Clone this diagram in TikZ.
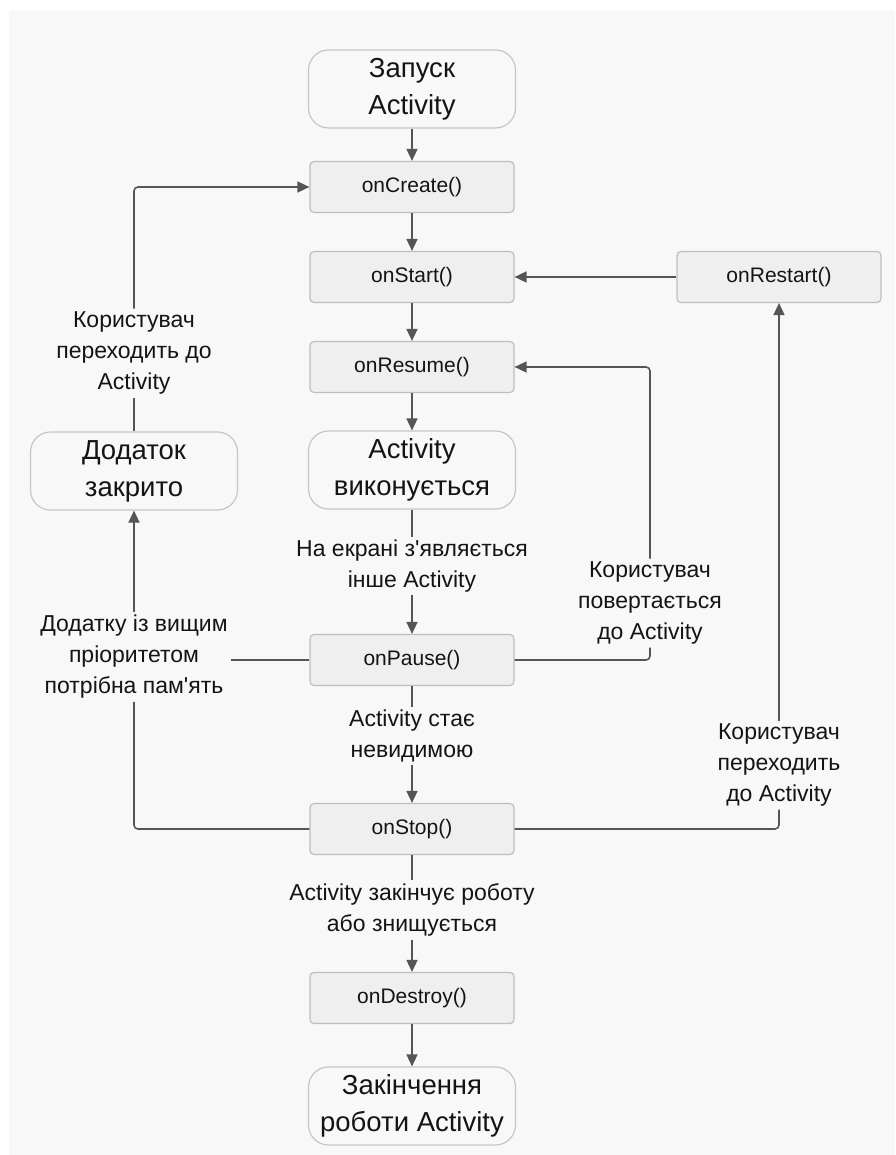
\documentclass[tikz,border=0pt]{standalone}
\usepackage{fontspec}
\setmainfont{Liberation Sans}
\usetikzlibrary{arrows.meta, positioning}
\tikzset{>={Triangle[length=12pt,width=11pt]}}
\definecolor{bgcol}{HTML}{F8F8F8}
\definecolor{boxfill}{HTML}{EFEFEF}
\definecolor{boxline}{HTML}{BEBEBE}
\definecolor{termline}{HTML}{C6C6C6}
\definecolor{linecol}{HTML}{555555}
\definecolor{txt}{HTML}{141414}

\begin{document}
\begin{tikzpicture}[x=1pt, y=-1pt,
  method/.style={draw=boxline, line width=1.2pt, fill=boxfill, rounded corners=4pt, minimum width=204pt, minimum height=51pt, text=txt, font=\fontsize{21}{24}\selectfont},
  terminal/.style={draw=termline, line width=1.2pt, fill=bgcol, rounded corners=20pt, minimum width=207pt, minimum height=78pt, align=center, text=txt, font=\fontsize{27.5}{37}\selectfont},
  note/.style={align=center, inner sep=3pt, text=txt, font=\fontsize{23}{31}\selectfont},
  conn/.style={draw=linecol, line width=1.6pt, rounded corners=4pt}
]

% Background
\useasboundingbox (0,0) rectangle (895,1155);
\fill[bgcol] (9,11) rectangle (895,1155);

% Main column
\node[terminal] (launch) at (412,89) {Запуск\\Activity};
\node[method] (create) at (412,187) {onCreate()};
\node[method] (start) at (412,277) {onStart()};
\node[method] (resume) at (412,367) {onResume()};
\node[terminal] (running) at (412,470) {Activity\\виконується};
\node[note] (covered) at (412,566) {На екрані з\textquotesingle являється\\інше Activity};
\node[method] (pause) at (412,660) {onPause()};
\node[note] (hidden) at (412,736) {Activity стає\\невидимою};
\node[method] (stop) at (412,829) {onStop()};
\node[note] (ending) at (412,910) {Activity закінчує роботу\\або знищується};
\node[method] (destroy) at (412,998) {onDestroy()};
\node[terminal] (finish) at (412,1106) {Закінчення\\роботи Activity};

% Right side
\node[method] (restart) at (779,277) {onRestart()};
\node[note] (back) at (650,603) {Користувач\\повертається\\до Activity};
\node[note] (navright) at (779,765) {Користувач\\переходить\\до Activity};

% Left side
\node[terminal] (closed) at (134,471) {Додаток\\закрито};
\node[note] (navleft) at (134,353) {Користувач\\переходить до\\Activity};
\node[note] (lowmem) at (134,657) {Додатку із вищим\\пріоритетом\\потрібна пам\textquotesingle ять};

% Main flow
\draw[conn, ->] (launch) -- (create);
\draw[conn, ->] (create) -- (start);
\draw[conn, ->] (start) -- (resume);
\draw[conn, ->] (resume) -- (running);
\draw[conn] (running) -- (covered);
\draw[conn, ->] (covered) -- (pause);
\draw[conn] (pause) -- (hidden);
\draw[conn, ->] (hidden) -- (stop);
\draw[conn] (stop) -- (ending);
\draw[conn, ->] (ending) -- (destroy);
\draw[conn, ->] (destroy) -- (finish);

% Back loops on the right
\draw[conn, ->] (restart) -- (start);
\draw[conn] (pause.east) -| (back.south);
\draw[conn, ->] (back.north) |- (resume.east);
\draw[conn] (stop.east) -| (navright.south);
\draw[conn, ->] (navright.north) -- (restart.south);

% Process killed on the left
\draw[conn] (pause.west) -- (pause.west -| lowmem.east);
\draw[conn] (stop.west) -| (lowmem.south);
\draw[conn, ->] (lowmem.north) -- (closed.south);
\draw[conn] (closed.north) -- (navleft.south);
\draw[conn, ->] (navleft.north) |- (create.west);

\end{tikzpicture}
\end{document}
